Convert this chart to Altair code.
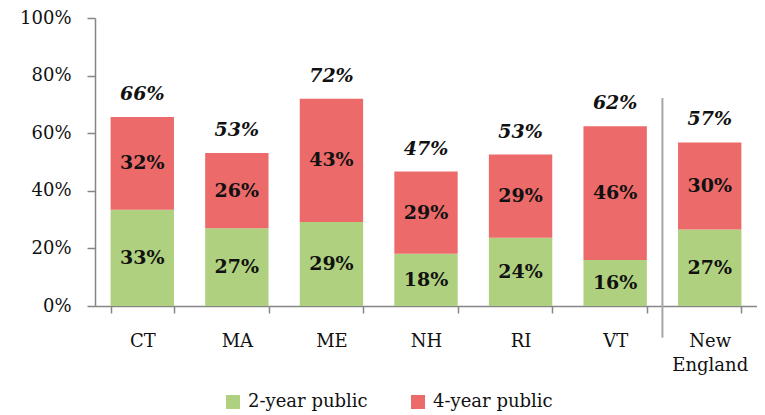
import altair as alt
import pandas as pd

states = ["CT", "MA", "ME", "NH", "RI", "VT", "New England"]
two_year = [33.4, 27.0, 29.2, 18.1, 23.7, 16.0, 26.6]
four_year = [32.2, 26.1, 42.8, 28.6, 28.9, 46.4, 30.2]
series = ["2-year public", "4-year public"]
colors = ["#afd07f", "#ec6a6a"]
y_ticks = [0, 0.2, 0.4, 0.6, 0.8, 1.0]
separator_state = "New England"
separator_top = 0.722
separator_bottom = -0.11

rows = []
for s, a, b in zip(states, two_year, four_year):
    rows.append({"state": s, "series": series[0], "order": 0, "value": a / 100})
    rows.append({"state": s, "series": series[1], "order": 1, "value": b / 100})
df = pd.DataFrame(rows)
sep_df = pd.DataFrame([{"state": separator_state, "top": separator_top, "bottom": separator_bottom}])

FONT = "DejaVu Serif"
AXIS_GRAY = "#868686"
TEXT = "#111111"
WIDTH = 662
PAD_INNER = 0.33
STEP = WIDTH / len(states)

xscale = alt.Scale(paddingInner=PAD_INNER, paddingOuter=PAD_INNER / 2)
yscale = alt.Scale(domain=[0, 1], nice=False)

x_axis = alt.Axis(
    title=None, tickBand="extent", labelAngle=0, labelFont=FONT, labelFontSize=18,
    labelColor=TEXT, labelPadding=19, tickSize=7, domainColor=AXIS_GRAY, tickColor=AXIS_GRAY,
    domainWidth=1.5, tickWidth=1.5,
    labelExpr="datum.label == 'New England' ? ['New', 'England'] : datum.label",
    labelLineHeight=24, labelBaseline="top",
)
y_axis = alt.Axis(
    title=None, values=y_ticks, format=".0%", grid=False, labelFont=FONT, labelFontSize=18,
    labelColor=TEXT, labelPadding=16, tickSize=8, domainColor=AXIS_GRAY, tickColor=AXIS_GRAY,
    domainWidth=1.5, tickWidth=1.5,
)

X = alt.X("state:N", sort=states, scale=xscale, axis=x_axis)

base = alt.Chart(df).transform_stack(
    stack="value", groupby=["state"], as_=["v0", "v1"], sort=[alt.SortField("order")]
).transform_calculate(mid="(datum.v0 + datum.v1) / 2")

bars = base.mark_bar().encode(
    x=X,
    y=alt.Y("v0:Q", scale=yscale, axis=y_axis),
    y2="v1:Q",
    color=alt.Color(
        "series:N",
        scale=alt.Scale(domain=series, range=colors),
        legend=alt.Legend(
            title=None, orient="none", direction="horizontal", legendX=129, legendY=375,
            symbolType="square", symbolSize=196, symbolStrokeWidth=0,
            labelFont=FONT, labelFontSize=18, labelColor=TEXT, labelOffset=6,
            columnPadding=41, padding=0,
        ),
    ),
)

seg_text = base.mark_text(
    font=FONT, fontSize=19, fontWeight="bold", baseline="middle", color=TEXT
).encode(
    x=alt.X("state:N", sort=states),
    y=alt.Y("mid:Q", scale=yscale),
    text=alt.Text("value:Q", format=".0%"),
)

totals = alt.Chart(df).transform_aggregate(
    total="sum(value)", groupby=["state"]
).mark_text(
    font=FONT, fontSize=19, fontWeight="bold", fontStyle="italic",
    baseline="alphabetic", dy=-17, color=TEXT
).encode(
    x=alt.X("state:N", sort=states),
    y=alt.Y("total:Q", scale=yscale),
    text=alt.Text("total:Q", format=".0%"),
)

sep = alt.Chart(sep_df).mark_rule(
    color="#a6a6a6", strokeWidth=2, xOffset=-STEP * PAD_INNER / 2
).encode(
    x=alt.X("state:N", sort=states, bandPosition=0),
    y=alt.Y("top:Q", scale=yscale),
    y2="bottom:Q",
)

chart = alt.layer(bars, seg_text, totals, sep).properties(
    width=WIDTH, height=288,
    autosize=alt.AutoSizeParams(type="none"),
    padding={"left": 87, "top": 10, "right": 0, "bottom": 109},
).configure_view(stroke=None)

chart.save("out.html", embed_options={"renderer": "svg", "actions": False})
